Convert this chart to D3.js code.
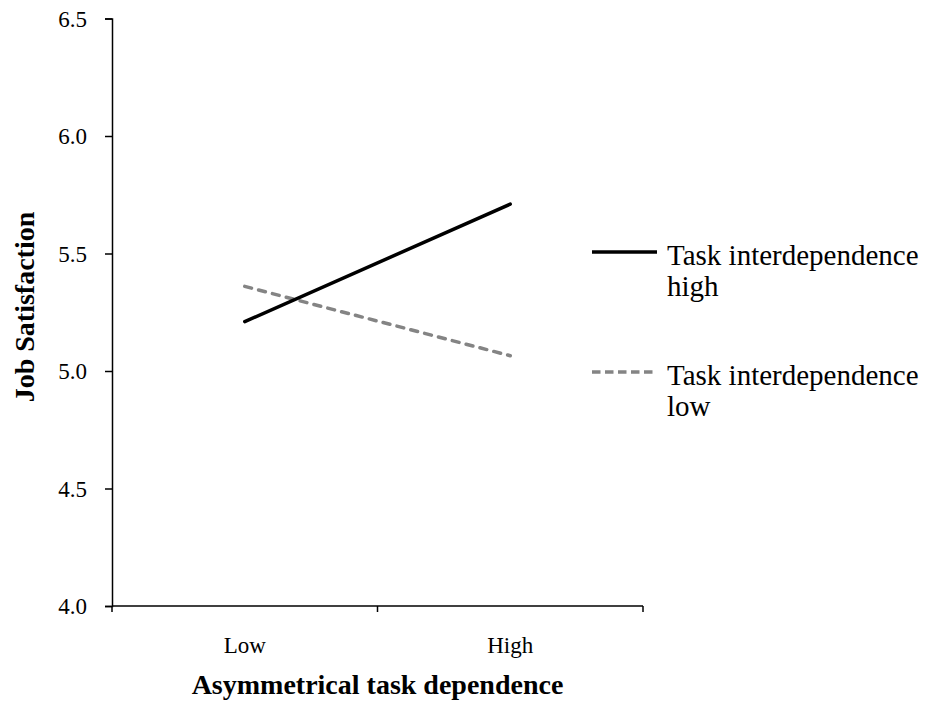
<!DOCTYPE html>
<html>
<head>
<meta charset="utf-8">
<title>Job Satisfaction</title>
<script src="https://d3js.org/d3.v7.min.js"></script>
<style>
  body { margin: 0; background: #fff; }
  text { font-family: "Liberation Serif", "Times New Roman", serif; fill: #000; }
</style>
</head>
<body>
<div id="chart"></div>
<script>
// data
var categories = ["Low", "High"];
var highValues = [5.21, 5.71];   // Task interdependence high
var lowValues = [5.36, 5.065];   // Task interdependence low
var yTicks = [4.0, 4.5, 5.0, 5.5, 6.0, 6.5];
var seriesNames = ["Task interdependence high", "Task interdependence low"];

var W = 929, H = 702;
var margin = { top: 18.5, right: 286, bottom: 96, left: 112 };
var width = W - margin.left - margin.right,
    height = H - margin.top - margin.bottom;

var svg = d3.select("#chart").append("svg")
    .attr("width", W)
    .attr("height", H);

var g = svg.append("g")
    .attr("transform", "translate(" + margin.left + "," + margin.top + ")");

var x = d3.scaleBand().domain(categories).range([0, width]).padding(0);
var y = d3.scaleLinear().domain([4, 6.5]).range([height, 0]);

// y axis
var yAxis = g.append("g")
    .call(d3.axisLeft(y).tickValues(yTicks).tickFormat(d3.format(".1f")).tickSizeOuter(0).tickSize(7));
yAxis.select(".domain").attr("stroke", "#000").attr("stroke-width", 1.5);
yAxis.selectAll(".tick line").attr("stroke-width", 1.5);
yAxis.selectAll(".tick text")
    .attr("x", -25)
    .attr("dy", "0.33em")
    .style("font-size", "23px")
    .style("font-family", "Liberation Serif")
    .attr("fill", "#000");

// x axis: ticks at band edges
var xAxis = g.append("g")
    .attr("transform", "translate(0," + height + ")");
xAxis.append("line")
    .attr("x1", 0).attr("x2", width)
    .attr("stroke", "#000").attr("stroke-width", 1.5);
var edges = [0, x("High"), width];
xAxis.selectAll(".edge").data(edges).enter().append("line")
    .attr("x1", function (d) { return d; })
    .attr("x2", function (d) { return d; })
    .attr("y1", 0).attr("y2", 6)
    .attr("stroke", "#000").attr("stroke-width", 1.5);
xAxis.selectAll(".lbl").data(categories).enter().append("text")
    .attr("x", function (d) { return x(d) + x.bandwidth() / 2; })
    .attr("y", 653 - margin.top - height)
    .attr("text-anchor", "middle")
    .style("font-size", "23px")
    .text(function (d) { return d; });

// axis titles
svg.append("text")
    .attr("x", margin.left + width / 2)
    .attr("y", 694)
    .attr("text-anchor", "middle")
    .style("font-size", "28px")
    .style("font-weight", "bold")
    .text("Asymmetrical task dependence");

svg.append("text")
    .attr("transform", "rotate(-90)")
    .attr("x", -307)
    .attr("y", 34)
    .attr("text-anchor", "middle")
    .style("font-size", "28px")
    .style("font-weight", "bold")
    .text("Job Satisfaction");

// lines
var line = d3.line()
    .x(function (d, i) { return x(categories[i]) + x.bandwidth() / 2; })
    .y(function (d) { return y(d); });

g.append("path")
    .datum(lowValues)
    .attr("d", line)
    .attr("fill", "none")
    .attr("stroke", "#848484")
    .attr("stroke-width", 3.5)
    .attr("stroke-linecap", "round")
    .attr("stroke-dasharray", "7,7.3");

g.append("path")
    .datum(highValues)
    .attr("d", line)
    .attr("fill", "none")
    .attr("stroke", "#000")
    .attr("stroke-width", 3.5)
    .attr("stroke-linecap", "round");

// legend
var legend = svg.append("g");
var legendY = [252, 372];
var styles = [{ c: "#000", dash: null }, { c: "#848484", dash: "8.5,4.5" }];
var second = ["high", "low"];
seriesNames.forEach(function (name, i) {
    var lg = legend.append("g").attr("transform", "translate(592," + legendY[i] + ")");
    lg.append("line")
        .attr("x1", 0).attr("x2", 65)
        .attr("stroke", styles[i].c)
        .attr("stroke-width", 3.5)
        .attr("stroke-dasharray", styles[i].dash);
    lg.append("text")
        .attr("x", 75).attr("y", 13)
        .style("font-size", "29px")
        .text("Task interdependence");
    lg.append("text")
        .attr("x", 75).attr("y", 44)
        .style("font-size", "29px")
        .text(second[i]);
});
</script>
</body>
</html>
